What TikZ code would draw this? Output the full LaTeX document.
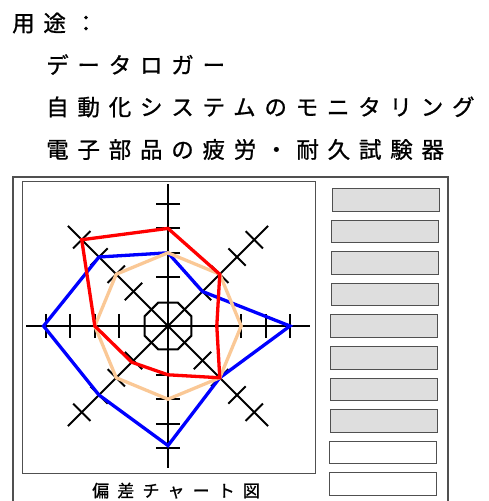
\documentclass[tikz,border=0pt]{standalone}
\usepackage{fontspec}
\newfontfamily\jpfont[FakeBold=1]{Noto Sans CJK JP}
\usepackage{xcolor}
\definecolor{peach}{RGB}{250,200,150}
\definecolor{slotgray}{RGB}{222,222,222}
\definecolor{framegray}{RGB}{80,80,80}

\tikzset{
  usage/.style={anchor=base west, inner sep=0pt,
    font=\jpfont\fontsize{22.5}{27}\selectfont\addfontfeature{LetterSpace=39}},
  caption/.style={anchor=base west, inner sep=0pt,
    font=\jpfont\fontsize{17}{20}\selectfont\addfontfeature{LetterSpace=48}},
  panel/.style={draw=framegray, line width=1.5pt},
  chartframe/.style={draw=framegray, line width=1pt},
  axis/.style={draw=black, line width=2pt},
  series/.style={line width=3.3pt, line join=miter},
  slot/.style={draw=framegray, line width=1pt, minimum width=107pt,
    minimum height=22.5pt, inner sep=0pt},
}

\begin{document}
\begin{tikzpicture}[x=1pt, y=1pt]
  \useasboundingbox (0,0) rectangle (488,-501);

  \node[usage] (use) at (12,-31.5) {用途：};
  \node[usage] (use1) at (46,-73.5) {データロガー};
  \node[usage] (use2) at (46,-115.5) {自動化システムのモニタリング};
  \node[usage] (use3) at (46,-158) {電子部品の疲労・耐久試験器};

  \draw[panel] (13,-501) -- (13,-177) -- (448,-177) -- (448,-501);
  \draw[chartframe] (22,-181) rectangle (315,-473);
  \node[caption] (chartname) at (92,-497) {偏差チャート図};

  % deviation chart
  \begin{scope}[shift={(168,-326)}, x=24.4pt, y=24.4pt]
    \foreach \a in {0,45,90,135}
      \draw[axis] (\a:5.8) -- (\a+180:5.8);
    \foreach \a in {0,45,...,315}
      \foreach \k in {2,...,5}
        \draw[axis, rotate=\a] (\k,-0.5) -- (\k,0.5);
    \draw[axis] (22.5:1.04) \foreach \a in {67.5,112.5,...,337.5} { -- (\a:1.04) } -- cycle;

    \draw[series, blue] (90:3) -- (45:2) -- (0:5) -- (-45:3) -- (-90:4.9)
      -- (-135:4) -- (180:5.1) -- (135:4) -- cycle;
    \draw[series, peach] (90:3) \foreach \a in {45,0,...,-225} { -- (\a:3) } -- cycle;
    \draw[series, red] (90:4) -- (45:3) -- (0:2) -- (-45:3) -- (-90:2)
      -- (-135:2.1) -- (180:3) -- (135:5) -- cycle;
  \end{scope}

  % indicator slots
  \foreach \i in {1,...,8}
    \node[slot, fill=slotgray] (slot\i) at ({385.8-0.28*\i}, {-168.45-31.55*\i}) {};
  \foreach \i in {9,10}
    \node[slot, fill=white] (slot\i) at ({385.8-0.28*\i}, {-168.45-31.55*\i}) {};
\end{tikzpicture}
\end{document}
